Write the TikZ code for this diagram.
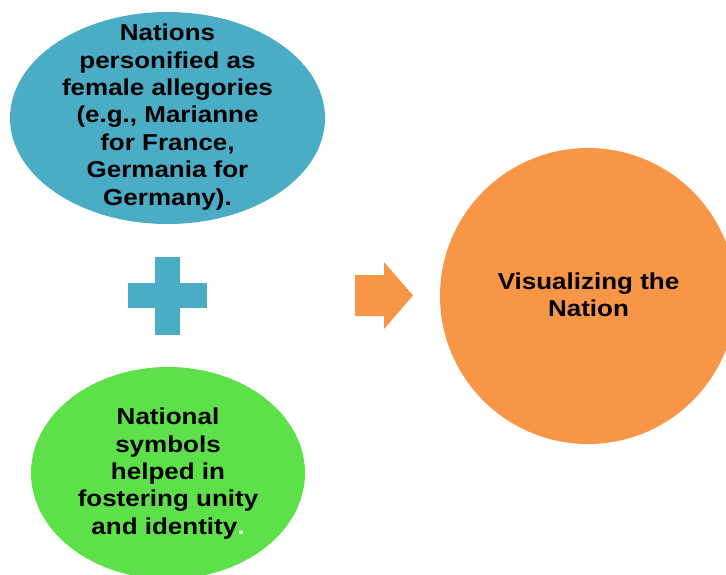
\documentclass[tikz,border=0pt]{standalone}
\usepackage{fontspec}
\newfontfamily\labfont[FakeStretch=1.13]{Liberation Sans}
\usetikzlibrary{shapes.geometric}
\definecolor{cblue}{RGB}{75,172,198}
\definecolor{cgreen}{RGB}{94,224,74}
\definecolor{corange}{RGB}{247,150,70}
\tikzset{
  lab/.style={font=\labfont\bfseries\fontsize{23}{27.4}\selectfont, align=center, text=black, inner sep=0pt},
  blob/.style={ellipse, draw=none, inner sep=0pt},
}
\begin{document}
\begin{tikzpicture}[x=1pt,y=-1pt]
\useasboundingbox (0,0) rectangle (726,574);
\clip (0,0) rectangle (726,574);
\fill[white] (0,0) rectangle (726,574);
% top ellipse
\node[blob, fill=cblue, minimum width=315pt, minimum height=212pt] (top) at (167.5,118) {};
\node[lab] (toptext) at (167.5,117) {Nations\\personified as\\female allegories\\(e.g., Marianne\\for France,\\Germania for\\Germany).};
% plus sign
\fill[cblue] (128,283) rectangle (207,308);
\fill[cblue] (155,257) rectangle (180,335);
% green ellipse
\node[blob, fill=cgreen, minimum width=274pt, minimum height=212pt] (bot) at (168,473) {};
\node[lab] (bottext) at (168,473.5) {National\\symbols\\helped in\\fostering unity\\and identity\textcolor{white}{.}};
% arrow
\fill[corange] (355,275) -- (384,275) -- (384,262) -- (413,295.5) -- (384,329) -- (384,316) -- (355,316) -- cycle;
% orange circle
\node[circle, fill=corange, minimum size=296pt, inner sep=0pt] (res) at (588,296) {};
\node[lab] (restext) at (588.5,294.5) {Visualizing the\\Nation};
\end{tikzpicture}
\end{document}
